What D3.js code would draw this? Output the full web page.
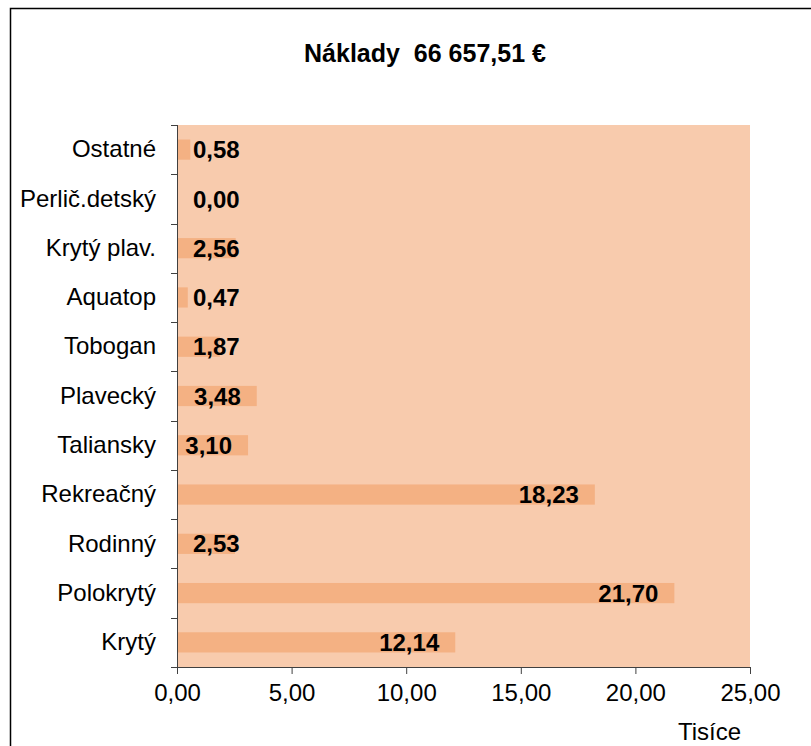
<!DOCTYPE html>
<style>
    body { margin: 0; background: #fff; }
    svg { display: block; font-family: "Liberation Sans", Arial, sans-serif; }
    .axis text { font-size: 24px; fill: #000; }
    .axis path, .axis line { stroke: #404040; }
    .title { white-space: pre; }
</style>
<svg width="811" height="746"></svg>
<script src="https://d3js.org/d3.v7.min.js"></script>
<script>

    var categories = ["Ostatné", "Perlič.detský", "Krytý plav.", "Aquatop", "Tobogan", "Plavecký",
                      "Taliansky", "Rekreačný", "Rodinný", "Polokrytý", "Krytý"];
    var values = [0.58, 0.00, 2.56, 0.47, 1.87, 3.48, 3.10, 18.23, 2.53, 21.70, 12.14];
    var xTicks = [0, 5, 10, 15, 20, 25];
    var title = "Náklady  66 657,51 €";
    var xUnit = "Tisíce";

    var data = categories.map(function(c, i) { return {name: c, value: values[i]}; });

    var svg = d3.select("svg"),
        margin = {top: 125, left: 177, right: 61, bottom: 79},
        width = +svg.attr("width") - margin.left - margin.right,
        height = +svg.attr("height") - margin.top - margin.bottom;

    var sk = d3.formatLocale({decimal: ",", thousands: " ", grouping: [3], currency: ["", " €"]});
    var fmt = sk.format(".2f");

    // frame of the chart area (runs off the right and bottom of the picture)
    svg.append("rect")
        .attr("x", 10.5).attr("y", 8.5)
        .attr("width", 820).attr("height", 760)
        .attr("fill", "none").attr("stroke", "#000").attr("stroke-width", 1.5);

    svg.append("text")
        .attr("class", "title")
        .attr("x", 425).attr("y", 62)
        .attr("text-anchor", "middle")
        .style("font-size", "25px").style("font-weight", "bold")
        .text(title);

    var g = svg.append("g").attr("transform", "translate(" + margin.left + "," + margin.top + ")");

    var x = d3.scaleLinear().domain([0, 25]).range([0, width]);
    var y = d3.scaleBand().domain(categories).range([0, height]).paddingInner(0.59).paddingOuter(0.295);

    g.append("rect")
        .attr("width", width).attr("height", height)
        .attr("fill", "#F8CBAD");

    g.selectAll(".bar")
        .data(data)
        .enter().append("rect")
        .attr("class", "bar")
        .attr("x", 0)
        .attr("y", function(d) { return y(d.name); })
        .attr("width", function(d) { return x(d.value); })
        .attr("height", y.bandwidth())
        .attr("fill", "#F4B183");

    // value labels at the inside end of each bar; when that would cross the axis they go to a fixed spot
    g.selectAll(".val")
        .data(data)
        .enter().append("text")
        .attr("class", "val")
        .attr("y", function(d) { return y(d.name) + y.bandwidth() / 2; })
        .attr("dy", "0.36em")
        .style("font-size", "24px").style("font-weight", "bold")
        .text(function(d) { return fmt(d.value); })
        .each(function(d) {
            var w = this.getComputedTextLength();
            var start = x(d.value) - 16 - w;
            d3.select(this).attr("x", start >= 0 ? start : 16);
        });

    // bottom axis
    g.append("g")
        .attr("class", "axis")
        .attr("transform", "translate(0," + height + ")")
        .call(d3.axisBottom(x).tickValues(xTicks).tickFormat(fmt).tickSize(7).tickSizeOuter(0).tickPadding(10));

    g.append("text")
        .attr("x", 564).attr("y", height + 73)
        .attr("text-anchor", "end")
        .style("font-size", "24px")
        .text(xUnit);

    // left axis: labels centred on bands, ticks on the band boundaries
    var left = g.append("g")
        .attr("class", "axis")
        .call(d3.axisLeft(y).tickSize(0).tickPadding(21));
    left.select(".domain").remove();

    var bounds = categories.map(function(c) { return y(c) - y.step() * y.paddingInner() / 2; }).concat([height]);
    g.append("line")
        .attr("x1", 0.5).attr("x2", 0.5).attr("y1", 0).attr("y2", height)
        .attr("stroke", "#404040");
    g.selectAll(".btick")
        .data(bounds)
        .enter().append("line")
        .attr("class", "btick")
        .attr("x1", -6).attr("x2", 0)
        .attr("y1", function(d) { return Math.round(d) + 0.5; })
        .attr("y2", function(d) { return Math.round(d) + 0.5; })
        .attr("stroke", "#404040");

</script>
